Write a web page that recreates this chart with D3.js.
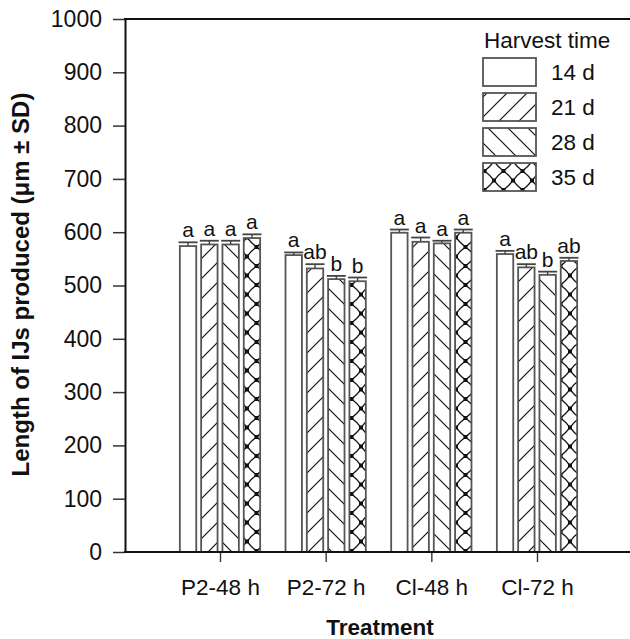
<!DOCTYPE html>
<html>
<head>
<meta charset="utf-8">
<script src="https://cdn.jsdelivr.net/npm/d3@7"></script>
<style>
  html, body { margin: 0; padding: 0; background: #fff; }
  svg { display: block; }
  text { font-family: "Liberation Sans", Arial, sans-serif; fill: #111; }
</style>
</head>
<body>
<svg id="chart" width="630" height="639"></svg>
<script>
// ---- data ----
const categories = ["P2-48 h", "P2-72 h", "Cl-48 h", "Cl-72 h"];
const series = ["14 d", "21 d", "28 d", "35 d"];
const values14 = [574, 557, 599, 559];
const values21 = [577, 532, 582, 534];
const values28 = [577, 512, 579, 520];
const values35 = [589, 508, 599, 546];
const sd14 = [7, 5, 6, 6];
const sd21 = [7, 8, 8, 6];
const sd28 = [7, 6, 5, 6];
const sd35 = [7, 7, 6, 6];
const letters14 = ["a", "a", "a", "a"];
const letters21 = ["a", "ab", "a", "ab"];
const letters28 = ["a", "b", "a", "b"];
const letters35 = ["a", "b", "a", "ab"];
const yTicks = [0, 100, 200, 300, 400, 500, 600, 700, 800, 900, 1000];
const legendTitle = "Harvest time";
const xTitle = "Treatment";
const yTitle = "Length of IJs produced (μm ± SD)";

const valueSets = [values14, values21, values28, values35];
const sdSets = [sd14, sd21, sd28, sd35];
const letterSets = [letters14, letters21, letters28, letters35];
const patternIds = ["p14", "p21", "p28", "p35"];

const rows = [];
categories.forEach((c, i) => {
  series.forEach((s, j) => {
    rows.push({cat: c, ser: s, si: j, v: valueSets[j][i], sd: sdSets[j][i], lab: letterSets[j][i]});
  });
});

// ---- layout ----
const svg = d3.select("#chart");
const pLeft = 125, pRight = 630, pTop = 19, pBottom = 552;

const y = d3.scaleLinear().domain([0, 1000]).range([pBottom, pTop]);
const x = d3.scalePoint().domain(categories).range([220, 537]);
const xs = d3.scaleBand().domain(series).range([-42.6, 42.6]).paddingInner(0.23).paddingOuter(0.115);

// ---- patterns ----
const defs = svg.append("defs");
function pat(id, w, h, draw) {
  const p = defs.append("pattern").attr("id", id).attr("patternUnits", "userSpaceOnUse")
    .attr("width", w).attr("height", h);
  p.append("rect").attr("width", w).attr("height", h).attr("fill", "#fff");
  draw(p);
}
pat("p14", 19, 19, p => {});
pat("p21", 20, 20, p => {
  p.append("path").attr("d", "M-2,22 L22,-2 M-4,4 L4,-4 M16,24 L24,16")
    .attr("stroke", "#111").attr("stroke-width", 1.2).attr("fill", "none");
});
pat("p28", 20, 20, p => {
  p.append("path").attr("d", "M-2,-2 L22,22 M-4,16 L4,24 M16,-4 L24,4")
    .attr("stroke", "#111").attr("stroke-width", 1.2).attr("fill", "none");
});
pat("p35", 19, 19, p => {
  p.append("path").attr("d", "M0,9.5 Q4,4 9.5,0 M9.5,0 Q15,4 19,9.5 M19,9.5 Q15,15 9.5,19 M9.5,19 Q4,15 0,9.5")
    .attr("stroke", "#111").attr("stroke-width", 1.3).attr("fill", "none");
  p.append("rect").attr("x", 7.5).attr("y", -2).attr("width", 4).attr("height", 4).attr("fill", "#111");
  p.append("rect").attr("x", -2).attr("y", 7.5).attr("width", 4).attr("height", 4).attr("fill", "#111");
  p.append("rect").attr("x", 17).attr("y", 7.5).attr("width", 4).attr("height", 4).attr("fill", "#111");
  p.append("rect").attr("x", 7.5).attr("y", 17).attr("width", 4).attr("height", 4).attr("fill", "#111");
});

// ---- bars ----
const g = svg.append("g");
g.selectAll("rect.bar").data(rows).join("rect")
  .attr("class", "bar")
  .attr("x", d => x(d.cat) + xs(d.ser))
  .attr("width", xs.bandwidth())
  .attr("y", d => y(d.v))
  .attr("height", d => y(0) - y(d.v))
  .attr("fill", d => `url(#${patternIds[d.si]})`)
  .attr("stroke", "#555")
  .attr("stroke-width", 1.8);

// error bars
const cx = d => x(d.cat) + xs(d.ser) + xs.bandwidth() / 2;
g.selectAll("line.err").data(rows).join("line")
  .attr("class", "err")
  .attr("x1", cx).attr("x2", cx)
  .attr("y1", d => y(d.v)).attr("y2", d => y(d.v + d.sd))
  .attr("stroke", "#444").attr("stroke-width", 1.4);
g.selectAll("line.cap").data(rows).join("line")
  .attr("class", "cap")
  .attr("x1", d => cx(d) - 9.5).attr("x2", d => cx(d) + 9.5)
  .attr("y1", d => y(d.v + d.sd)).attr("y2", d => y(d.v + d.sd))
  .attr("stroke", "#444").attr("stroke-width", 1.8);

// letters
g.selectAll("text.lab").data(rows).join("text")
  .attr("class", "lab")
  .attr("x", cx)
  .attr("y", d => y(d.v + d.sd) - 5)
  .attr("text-anchor", "middle")
  .attr("font-size", 21)
  .text(d => d.lab);

// ---- axes ----
const yAxis = svg.append("g").attr("transform", `translate(${pLeft},0)`)
  .call(d3.axisLeft(y).tickValues(yTicks).tickFormat(d3.format("d")).tickSize(12).tickPadding(11).tickSizeOuter(0));
yAxis.select(".domain").attr("stroke", "#111").attr("stroke-width", 2);
yAxis.selectAll(".tick line").attr("stroke", "#333").attr("stroke-width", 1.5);
yAxis.selectAll(".tick text").attr("font-size", 23).attr("fill", "#111")
  .style("font-family", "'Liberation Sans', Arial, sans-serif");

const xAxis = svg.append("g").attr("transform", `translate(0,${pBottom})`)
  .call(d3.axisBottom(x).tickSize(10).tickPadding(17).tickSizeOuter(0));
xAxis.select(".domain").remove();
xAxis.selectAll(".tick line").attr("stroke", "#333").attr("stroke-width", 1.4);
xAxis.selectAll(".tick text").attr("font-size", 22.5).attr("fill", "#111")
  .style("font-family", "'Liberation Sans', Arial, sans-serif");

// baseline and top frame
svg.append("line").attr("x1", pLeft - 1).attr("x2", pRight).attr("y1", pBottom).attr("y2", pBottom)
  .attr("stroke", "#111").attr("stroke-width", 2);
svg.append("line").attr("x1", pLeft - 1).attr("x2", pRight).attr("y1", pTop).attr("y2", pTop)
  .attr("stroke", "#111").attr("stroke-width", 2);

// titles
svg.append("text").attr("x", 380).attr("y", 635)
  .attr("text-anchor", "middle").attr("font-size", 22.5).attr("font-weight", "bold").text(xTitle);
svg.append("text").attr("transform", `translate(29,${(92 + 477) / 2}) rotate(-90)`)
  .attr("text-anchor", "middle").attr("font-size", 24).attr("font-weight", "bold").text(yTitle);

// ---- legend ----
const lg = svg.append("g");
lg.append("text").attr("x", 484).attr("y", 48).attr("font-size", 22.5).text(legendTitle);
series.forEach((s, j) => {
  const yy = 58 + j * 35;
  lg.append("rect").attr("x", 483).attr("y", yy).attr("width", 53).attr("height", 28)
    .attr("fill", `url(#${patternIds[j]})`).attr("stroke", "#555").attr("stroke-width", 1.8);
  lg.append("text").attr("x", 551).attr("y", yy + 22).attr("font-size", 22.5).text(s);
});
</script>
</body>
</html>
